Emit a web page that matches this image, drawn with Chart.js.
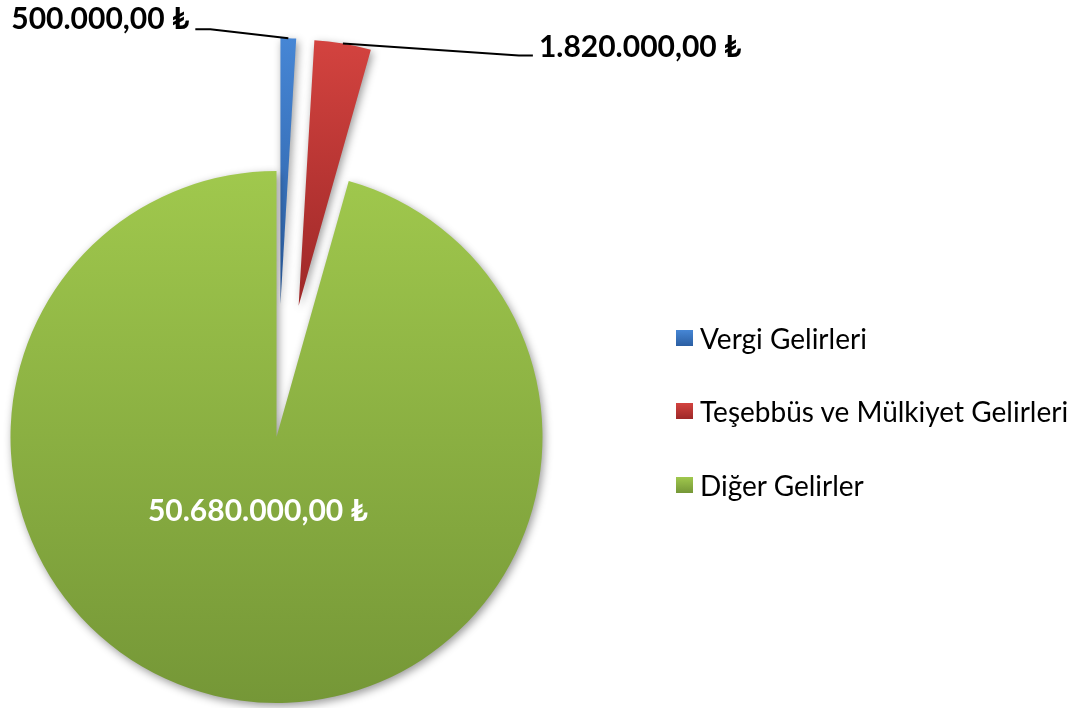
<!DOCTYPE html>
<html>
<head>
<meta charset="utf-8">
<script src="https://cdn.jsdelivr.net/npm/chart.js@4"></script>
<style>
  body { margin: 0; background: #fff; }
  #wrap { position: relative; width: 1080px; height: 708px; }
  #legend { position: absolute; left: 676px; top: 301px; font-family: Lato, sans-serif; font-size: 28px; color: #000; }
  .item { height: 73.5px; display: flex; align-items: center; white-space: nowrap; }
  .box { width: 17px; height: 16px; margin-right: 7px; }
</style>
</head>
<body>
<div id="wrap">
  <canvas id="chart"></canvas>
  <div id="legend"></div>
</div>
<script>
// gelir kalemleri
const categories = ['Vergi Gelirleri', 'Teşebbüs ve Mülkiyet Gelirleri', 'Diğer Gelirler'];
const values = [500000, 1820000, 50680000];
const explode = [0.5, 0.5, 0];
const topColors = ['#4686D5', '#D3433F', '#A0C84D'];
const bottomColors = ['#2B5EA2', '#9E2828', '#759737'];

const total = values.reduce((a, b) => a + b, 0);

function formatTL(v) {
    const s = Math.round(v).toString().replace(/\B(?=(\d{3})+(?!\d))/g, '.');
    return s + ',00 ₺';
}

function sliceAngles(i) {
    let before = 0;
    for (let j = 0; j < i; j++) before += values[j];
    const start = -Math.PI / 2 + 2 * Math.PI * before / total;
    const end = start + 2 * Math.PI * values[i] / total;
    return { start, end };
}

function sliceGradient(c) {
    const chart = c.chart;
    const area = chart.chartArea;
    const i = c.dataIndex;
    if (!area || i === undefined) return topColors[i || 0];
    const R = Math.min(area.width, area.height) / 2;
    const cy = (area.top + area.bottom) / 2;
    const { start, end } = sliceAngles(i);
    const mid = (start + end) / 2;
    const y0 = cy + Math.sin(mid) * explode[i] * R;
    const hasTop = start <= -Math.PI / 2 + 1e-6 || end >= 1.5 * Math.PI;
    const hasBottom = start <= Math.PI / 2 && end >= Math.PI / 2;
    const top = hasTop ? y0 - R : y0 + Math.min(Math.sin(start), Math.sin(end), 0) * R;
    const bottom = hasBottom ? y0 + R : y0 + Math.max(Math.sin(start), Math.sin(end), 0) * R;
    const g = chart.ctx.createLinearGradient(0, top, 0, bottom);
    g.addColorStop(0, topColors[i]);
    g.addColorStop(1, bottomColors[i]);
    return g;
}

// dilimleri dışarı çekme, gölge ve etiketler
const pieExtras = {
    id: 'pieExtras',
    afterUpdate(chart) {
        const meta = chart.getDatasetMeta(0);
        meta.data.forEach((arc, i) => {
            const mid = (arc.startAngle + arc.endAngle) / 2;
            const d = explode[i] * arc.outerRadius;
            arc.x += Math.cos(mid) * d;
            arc.y += Math.sin(mid) * d;
        });
    },
    beforeDatasetsDraw(chart) {
        const ctx = chart.ctx;
        ctx.save();
        ctx.shadowColor = 'rgba(0,0,0,0.4)';
        ctx.shadowBlur = 8;
        ctx.shadowOffsetX = 2;
        ctx.shadowOffsetY = 3;
    },
    afterDatasetsDraw(chart) {
        const ctx = chart.ctx;
        ctx.restore();
        const meta = chart.getDatasetMeta(0);
        let outside = 0;
        meta.data.forEach((arc, i) => {
            const mid = (arc.startAngle + arc.endAngle) / 2;
            const R = arc.outerRadius;
            const text = formatTL(values[i]);
            ctx.save();
            ctx.font = 'bold 30px Lato, sans-serif';
            if (values[i] / total > 0.1) {
                ctx.fillStyle = '#fff';
                ctx.textAlign = 'center';
                ctx.textBaseline = 'middle';
                const r = R * 0.29;
                ctx.fillText(text, arc.x + Math.cos(mid) * r - 8, arc.y + Math.sin(mid) * r - 2);
            } else {
                const ax = arc.x + Math.cos(mid) * R;
                const ay = arc.y + Math.sin(mid) * R;
                ctx.strokeStyle = '#000';
                ctx.lineWidth = 2;
                ctx.fillStyle = '#000';
                ctx.textBaseline = 'alphabetic';
                ctx.beginPath();
                ctx.moveTo(ax, ay);
                if (outside === 0) {
                    ctx.lineTo(ax - 78, ay - 9);
                    ctx.lineTo(ax - 93, ay - 9);
                    ctx.stroke();
                    ctx.textAlign = 'right';
                    ctx.fillText(text, ax - 99, ay - 9);
                } else {
                    ctx.lineTo(ax + 176, ay + 12);
                    ctx.lineTo(ax + 190, ay + 12);
                    ctx.stroke();
                    ctx.textAlign = 'left';
                    ctx.fillText(text, ax + 196, ay + 13);
                }
                outside++;
            }
            ctx.restore();
        });
    }
};

new Chart(document.getElementById('chart'), {
    type: 'pie',
    data: {
        labels: categories,
        datasets: [{
            data: values,
            backgroundColor: sliceGradient,
            borderWidth: 0,
            clip: false
        }]
    },
    options: {
        responsive: true,
        maintainAspectRatio: false,
        animation: false,
        events: [],
        layout: { padding: { left: 10, right: 537, top: 171, bottom: 5 } },
        plugins: {
            legend: { display: false },
            tooltip: { enabled: false }
        }
    },
    plugins: [pieExtras]
});

// lejant
const legend = document.getElementById('legend');
categories.forEach((name, i) => {
    const row = document.createElement('div');
    row.className = 'item';
    const box = document.createElement('span');
    box.className = 'box';
    box.style.background = 'linear-gradient(' + topColors[i] + ', ' + bottomColors[i] + ')';
    const label = document.createElement('span');
    label.textContent = name;
    row.appendChild(box);
    row.appendChild(label);
    legend.appendChild(row);
});
</script>
</body>
</html>
